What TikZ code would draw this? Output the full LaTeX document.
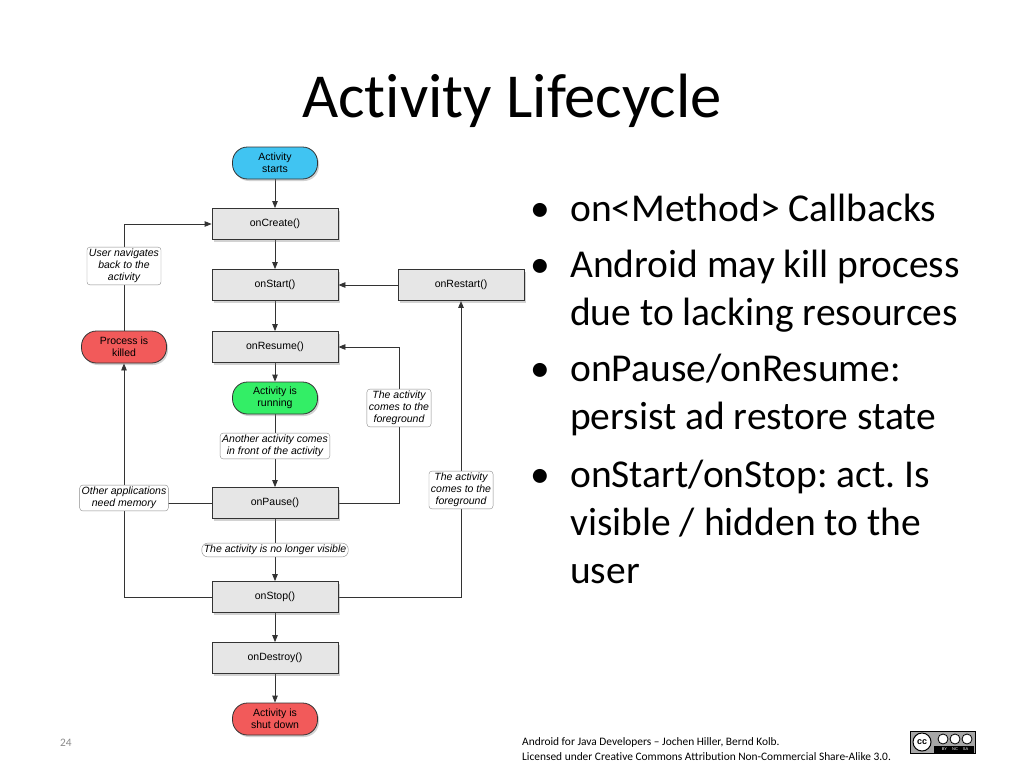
\documentclass[tikz,border=0pt]{standalone}
\usepackage{fontspec}
\setmainfont{Carlito}[Ligatures=NoCommon]
\newfontfamily\diagfont{Liberation Sans}
\usetikzlibrary{arrows.meta,shadows,backgrounds}
\definecolor{boxgray}{HTML}{E6E6E6}
\definecolor{cyanc}{HTML}{40C4F2}
\definecolor{greenc}{HTML}{33EE66}
\definecolor{redc}{HTML}{F25A5A}
\definecolor{linec}{HTML}{333333}
\frenchspacing
\begin{document}
\begin{tikzpicture}[x=1pt,y=-1pt,
  shad/.style={drop shadow={opacity=0.35,shadow xshift=1.5pt,shadow yshift=-2pt}},
  box/.style={draw=linec,fill=boxgray,line width=0.8pt,minimum width=126pt,minimum height=31pt,
    font=\diagfont\fontsize{10.5}{12}\selectfont,shad},
  pill/.style={draw=linec,line width=0.8pt,rounded corners=15pt,minimum width=85pt,minimum height=32pt,
    align=center,inner sep=1pt,font=\diagfont\fontsize{10.5}{12}\selectfont,shad},
  lbl/.style={draw=black!45,fill=white,rounded corners=3pt,align=center,inner sep=2pt,
    font=\diagfont\itshape\fontsize{10.5}{12}\selectfont},
  conn/.style={draw=linec,line width=0.8pt},
  arr/.style={conn,-{Triangle[length=7pt,width=5.5pt]}},
  bul/.style={anchor=base west,inner sep=0pt,font=\fontsize{39.5}{44}\selectfont},
  foot/.style={anchor=base west,inner sep=0pt,font=\fontsize{11.4}{13}\selectfont}
]
\useasboundingbox (0,0) rectangle (1024,768);

% title
\node[anchor=base,inner sep=0pt,font=\fontsize{62.6}{70}\selectfont] (title) at (512,117) {Activity Lifecycle};

% main column
\node[pill,fill=cyanc] (start) at (275,163) {Activity\\starts};
\node[box] (create) at (275,224) {onCreate()};
\node[box] (onstart) at (275,285) {onStart()};
\node[box] (resume) at (275,347) {onResume()};
\node[pill,fill=greenc] (running) at (275,398) {Activity is\\running};
\node[box] (pause) at (275,503) {onPause()};
\node[box] (stop) at (275,597) {onStop()};
\node[box] (destroy) at (275,658) {onDestroy()};
\node[pill,fill=redc] (shut) at (275,719) {Activity is\\shut down};
\node[box] (restart) at (461,285) {onRestart()};
\node[pill,fill=redc] (killed) at (124,347) {Process is\\killed};

% labels
\node[lbl] (lnav) at (124,266) {User navigates\\back to the\\activity};
\node[lbl] (lother) at (124,498) {Other applications\\need memory};
\node[lbl] (lfgA) at (399,408) {The activity\\comes to the\\foreground};
\node[lbl] (lfgB) at (461,490) {The activity\\comes to the\\foreground};
\node[lbl] (lanother) at (275,446) {Another activity comes\\in front of the activity};
\node[lbl,rounded corners=6pt] (lvis) at (275,550) {The activity is no longer visible};

\begin{pgfonlayer}{background}
\fill[white] (0,0) rectangle (1024,768);
\draw[arr] (start) -- (create);
\draw[arr] (create) -- (onstart);
\draw[arr] (onstart) -- (resume);
\draw[arr] (resume) -- (running);
\draw[arr] (running) -- (pause);
\draw[arr] (pause) -- (stop);
\draw[arr] (stop) -- (destroy);
\draw[arr] (destroy) -- (shut);
\draw[arr] (restart) -- (onstart);
\draw[arr] (killed.north) |- (create.west);
\draw[arr] (stop.west) -| (killed.south);
\draw[conn] (pause.west) -- (pause.west -| killed.south);
\draw[conn] (pause.east) -| (lfgA.south);
\draw[arr] (lfgA.north) |- (resume.east);
\draw[arr] (stop.east) -| (restart.south);
\end{pgfonlayer}

% bullets
\node[bul] (d1) at (530,221) {•};
\node[bul] (t1) at (570,221) {on<Method> Callbacks};
\node[bul] (d2) at (530,277) {•};
\node[bul] (t2a) at (570,277) {Android may kill process};
\node[bul] (t2b) at (570,325) {due to lacking resources};
\node[bul] (d3) at (530,381) {•};
\node[bul] (t3a) at (570,381) {onPause/onResume:};
\node[bul] (t3b) at (570,429) {persist ad restore state};
\node[bul] (d4) at (530,487) {•};
\node[bul] (t4a) at (570,487) {onStart/onStop: act. Is};
\node[bul] (t4b) at (570,535) {visible / hidden to the};
\node[bul] (t4c) at (570,583) {user};

% footer
\node[foot,text=black!45] (pg) at (60,746) {24};
\node[foot] (f1) at (522,745) {Android for Java Developers – Jochen Hiller, Bernd Kolb.};
\node[foot] (f2) at (522,760) {Licensed under Creative Commons Attribution Non-Commercial Share-Alike 3.0.};

% CC badge
\draw[black,fill=black!35,line width=0.8pt] (910,731) rectangle (975,753);
\fill[black] (934,746) rectangle (974,752.5);
\draw[black,fill=white,line width=1pt] (922,742) circle (9);
\node[inner sep=0pt,font=\diagfont\bfseries\fontsize{9}{9}\selectfont] (cc) at (922,742.5) {cc};
\draw[black,fill=white,line width=0.8pt] (943,739) circle (5);
\draw[black,fill=white,line width=0.8pt] (955,739) circle (5);
\draw[black,fill=white,line width=0.8pt] (967,739) circle (5);
\node[inner sep=0pt,text=white,font=\diagfont\fontsize{4}{4}\selectfont] (ccl) at (955,749.5) {BY\hspace{5pt}NC\hspace{5pt}SA};
\end{tikzpicture}
\end{document}
